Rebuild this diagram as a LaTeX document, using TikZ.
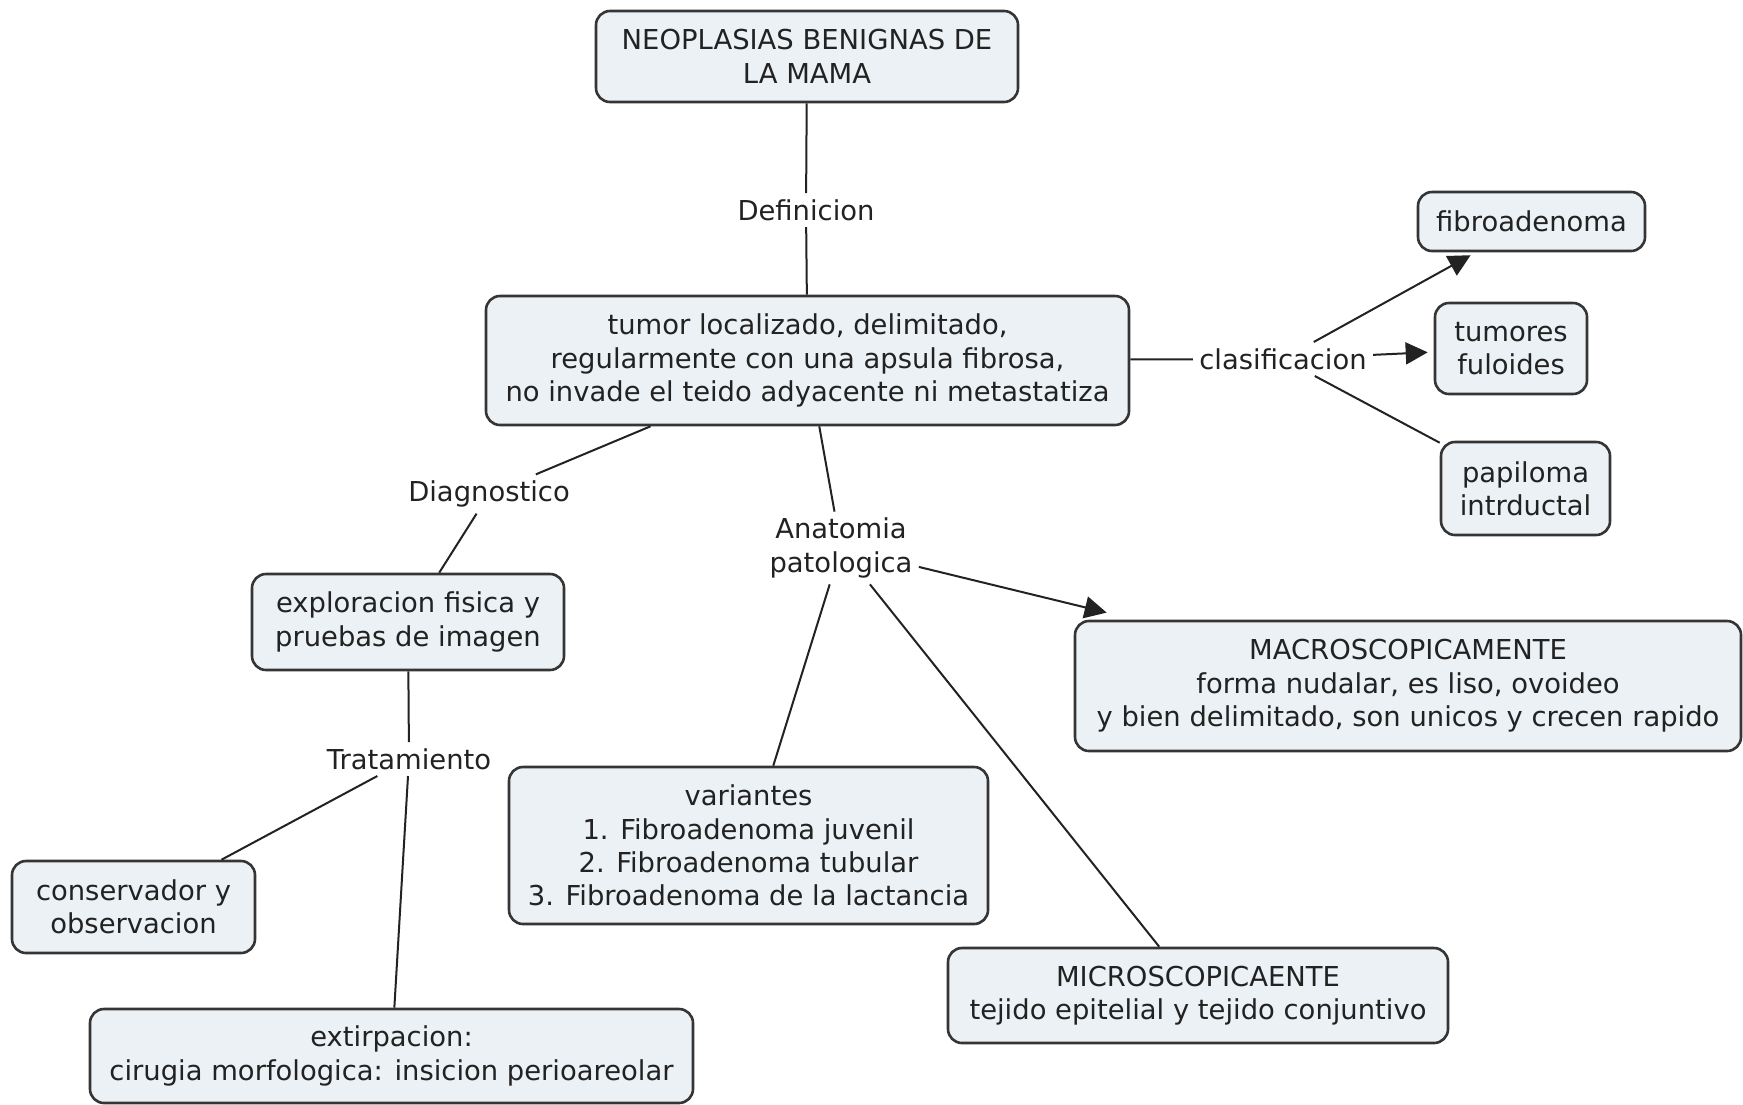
\documentclass[tikz,border=0pt]{standalone}
\usepackage{fontspec}
\setmainfont{DejaVu Sans}
\usetikzlibrary{arrows.meta}
\definecolor{boxfill}{HTML}{EBF1F4}
\definecolor{boxline}{HTML}{353535}
\definecolor{ink}{HTML}{222222}

\begin{document}
\begin{tikzpicture}[x=0.5pt,y=-0.5pt,
    every node/.style={font=\fontsize{13.7}{16.7}\selectfont,text=ink},
    concept/.style={draw=boxline,fill=boxfill,line width=1.3pt,rounded corners=7pt,align=center,inner sep=0pt},
    phrase/.style={align=center,inner sep=3pt},
    tip/.style={-{Triangle[length=11pt,width=11pt]},shorten >=3pt}]
    \useasboundingbox (0,0) rectangle (1743,1104);
    % conceptos
    \node[concept,minimum width=211pt,minimum height=45.5pt] (1) at (807,56.5) {NEOPLASIAS BENIGNAS DE\\LA MAMA};
    \node[concept,minimum width=321.5pt,minimum height=64.5pt] (2) at (807.5,360.5) {tumor localizado, delimitado,\\regularmente con una apsula fibrosa,\\no invade el teido adyacente ni metastatiza};
    \node[concept,minimum width=113.5pt,minimum height=29.5pt] (3) at (1531.5,221.5) {fibroadenoma};
    \node[concept,minimum width=76pt,minimum height=45.5pt] (4) at (1511,348.5) {tumores\\fuloides};
    \node[concept,minimum width=84.5pt,minimum height=46.5pt] (5) at (1525.5,488.5) {papiloma\\intrductal};
    \node[concept,minimum width=156pt,minimum height=48pt] (6) at (408,622) {exploracion fisica y\\pruebas de imagen};
    \node[concept,minimum width=333pt,minimum height=65pt] (7) at (1408,686) {MACROSCOPICAMENTE\\forma nudalar, es liso, ovoideo\\y bien delimitado, son unicos y crecen rapido};
    \node[concept,minimum width=239.5pt,minimum height=78.5pt] (8) at (748.5,845.5) {variantes\\1. Fibroadenoma juvenil\\2. Fibroadenoma tubular\\3. Fibroadenoma de la lactancia};
    \node[concept,minimum width=121.5pt,minimum height=46pt] (9) at (133.5,907) {conservador y\\observacion};
    \node[concept,minimum width=250pt,minimum height=47.5pt] (10) at (1198,995.5) {MICROSCOPICAENTE\\tejido epitelial y tejido conjuntivo};
    \node[concept,minimum width=301.5pt,minimum height=47pt] (11) at (391.5,1056) {extirpacion:\\cirugia morfologica: insicion perioareolar};
    % frases de enlace
    \node[phrase] (12) at (806,210) {Definicion};
    \node[phrase] (13) at (1283,359) {clasificacion};
    \node[phrase] (14) at (489,494) {Diagnostico};
    \node[phrase] (15) at (841,548) {Anatomia\\patologica};
    \node[phrase] (16) at (409,759) {Tratamiento};
\begin{scope}[line width=1pt,draw=ink]
    \draw (1) -- (12);
    \draw (12) -- (2);
    \draw (2) -- (13);
    \draw[tip] (13) -- (3);
    \draw[tip] (13) -- (4);
    \draw (13) -- (5);
    \draw (2) -- (14);
    \draw (14) -- (6);
    \draw (2) -- (15);
    \draw[tip,shorten >=15pt] (15) -- (7);
    \draw (15) -- (8);
    \draw (15) -- (10);
    \draw (6) -- (16);
    \draw (16) -- (9);
    \draw (16) -- (11);
\end{scope}
\end{tikzpicture}
\end{document}
